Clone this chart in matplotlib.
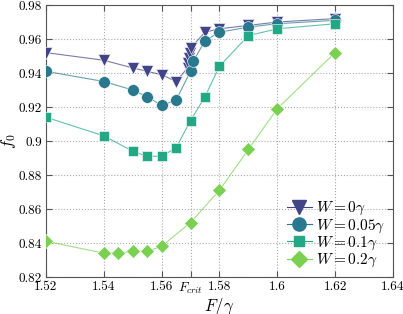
import numpy as np
import matplotlib

matplotlib.use("Agg")
import matplotlib.pyplot as plt

plt.rcParams["font.family"] = "serif"
plt.rcParams["font.serif"] = ["cmr10"]
plt.rcParams["mathtext.fontset"] = "cm"
plt.rcParams["axes.formatter.use_mathtext"] = True

# F / gamma values for each series
F_w0 = [1.52, 1.54, 1.55, 1.555, 1.56, 1.565, 1.5690, 1.5693, 1.5696, 1.5699, 1.5702,
        1.575, 1.58, 1.59, 1.60, 1.62]
f_w0 = [0.952, 0.9475, 0.943, 0.941, 0.939, 0.935, 0.943, 0.946, 0.949, 0.952, 0.955,
        0.964, 0.966, 0.968, 0.970, 0.972]

F_w005 = [1.52, 1.54, 1.55, 1.555, 1.56, 1.565, 1.570, 1.571, 1.575, 1.58, 1.59, 1.60, 1.62]
f_w005 = [0.941, 0.935, 0.930, 0.926, 0.921, 0.924, 0.941, 0.947, 0.959, 0.964, 0.967, 0.969, 0.971]

F_w01 = [1.52, 1.54, 1.55, 1.555, 1.56, 1.565, 1.57, 1.575, 1.58, 1.59, 1.60, 1.62]
f_w01 = [0.914, 0.903, 0.894, 0.891, 0.891, 0.896, 0.912, 0.926, 0.944, 0.962, 0.966, 0.969]

F_w02 = [1.52, 1.54, 1.545, 1.55, 1.555, 1.56, 1.57, 1.58, 1.59, 1.60, 1.62]
f_w02 = [0.841, 0.834, 0.834, 0.835, 0.835, 0.838, 0.852, 0.871, 0.895, 0.919, 0.952]

labels = [r"$W=0\gamma$", r"$W=0.05\gamma$", r"$W=0.1\gamma$", r"$W=0.2\gamma$"]
colors = ["#414487", "#2a788e", "#22a884", "#7ad151"]

x_ticks = [1.52, 1.54, 1.56, 1.57, 1.58, 1.6, 1.62, 1.64]
x_tick_labels = ["1.52", "1.54", "1.56", r"$F_{crit}$", "1.58", "1.6", "1.62", "1.64"]
y_ticks = [0.82, 0.84, 0.86, 0.88, 0.9, 0.92, 0.94, 0.96, 0.98]
y_tick_labels = ["0.82", "0.84", "0.86", "0.88", "0.9", "0.92", "0.94", "0.96", "0.98"]

fig = plt.figure(figsize=(4.03, 3.14), dpi=100)
ax = fig.add_axes([0.114, 0.118, 0.861, 0.866])

series = [(F_w0, f_w0, "v", 9), (F_w005, f_w005, "o", 8.5),
          (F_w01, f_w01, "s", 6.5), (F_w02, f_w02, "D", 7)]
for (xs, ys, mk, ms), c, lab in zip(series, colors, labels):
    ax.plot(xs, ys, color=c, lw=0.8, alpha=0.7, zorder=2)
    ax.plot(xs, ys, linestyle="none", marker=mk, ms=ms, color=c,
            mec="white", mew=0.4, zorder=3)
    # legend proxy
    ax.plot([], [], color=c, lw=0.8, marker=mk, ms=ms + 1, mfc=c, mec=c,
            label=lab)

ax.set_xlim(1.52, 1.64)
ax.set_ylim(0.82, 0.98)
ax.set_xticks(x_ticks)
ax.set_xticklabels(x_tick_labels)
ax.set_yticks(y_ticks)
ax.set_yticklabels(y_tick_labels)
ax.tick_params(direction="in", top=True, right=True, labelsize=9.5, length=4,
               color="#555555", pad=3)
ax.grid(True, linestyle=":", color="#aaaaaa", lw=0.8)
for s in ax.spines.values():
    s.set_color("#555555")

ax.set_xlabel(r"$F/\gamma$", fontsize=12, labelpad=0)
ax.set_ylabel(r"$f_0$", fontsize=12, labelpad=0)

leg = ax.legend(loc="lower right", frameon=False, fontsize=11, handlelength=1.6,
                handletextpad=0.3, labelspacing=0.0, borderaxespad=0.2,
                borderpad=0.3)
for line in leg.get_lines():
    line.set_alpha(1.0)

fig.savefig("out.png", dpi=100)
